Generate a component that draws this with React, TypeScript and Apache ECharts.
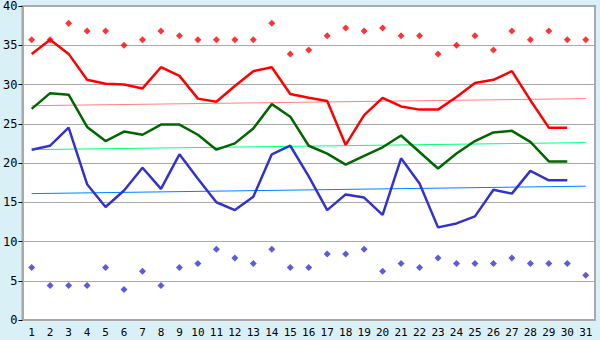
import React, { useEffect, useRef } from "react";
import * as echarts from "echarts";

const days = Array.from({ length: 31 }, (_, i) => String(i + 1));

const maxLine = [33.9, 35.7, 33.9, 30.6, 30.1, 30.0, 29.5, 32.2, 31.1, 28.2, 27.8, 29.8, 31.7, 32.2, 28.8, 28.3, 27.9, 22.3, 26.1, 28.3, 27.2, 26.8, 26.8, 28.4, 30.2, 30.6, 31.7, 28.0, 24.5, 24.5, null];
const avgLine = [26.9, 28.9, 28.7, 24.6, 22.8, 24.0, 23.6, 24.9, 24.9, 23.6, 21.7, 22.5, 24.4, 27.5, 25.9, 22.2, 21.2, 19.8, 20.9, 22.0, 23.5, 21.4, 19.3, 21.2, 22.8, 23.9, 24.1, 22.7, 20.2, 20.2, null];
const minLine = [21.7, 22.2, 24.5, 17.3, 14.4, 16.5, 19.4, 16.7, 21.1, 18.0, 15.0, 14.0, 15.7, 21.1, 22.2, 18.3, 14.0, 16.0, 15.6, 13.4, 20.6, 17.4, 11.8, 12.3, 13.2, 16.6, 16.1, 19.0, 17.8, 17.8, null];
const maxRecord = [35.7, 35.7, 37.8, 36.8, 36.8, 35.0, 35.7, 36.8, 36.2, 35.7, 35.7, 35.7, 35.7, 37.8, 33.9, 34.4, 36.2, 37.2, 36.8, 37.2, 36.2, 36.2, 33.9, 35.0, 36.2, 34.4, 36.8, 35.7, 36.8, 35.7, 35.7];
const minRecord = [6.7, 4.4, 4.4, 4.4, 6.7, 3.9, 6.2, 4.4, 6.7, 7.2, 9.0, 7.9, 7.2, 9.0, 6.7, 6.7, 8.4, 8.4, 9.0, 6.2, 7.2, 6.7, 7.9, 7.2, 7.2, 7.2, 7.9, 7.2, 7.2, 7.2, 5.7];
// trend line endpoints (day 1, day 31)
const maxTrend = [27.3, 28.2];
const avgTrend = [21.7, 22.6];
const minTrend = [16.1, 17.05];

const FONT = "DejaVu Sans Mono";

export default function App() {
  const ref = useRef<HTMLDivElement>(null);
  useEffect(() => {
    const chart = echarts.init(ref.current!, undefined, { renderer: "svg" });
    const last = days.length - 1;
    const trend = (vals: number[], color: string) => ({
      type: "line",
      data: [[0, vals[0]], [last, vals[1]]],
      symbol: "none",
      lineStyle: { color, width: 1 },
      z: 1,
    });
    const line = (vals: (number | null)[], color: string) => ({
      type: "line",
      data: vals,
      symbol: "none",
      lineStyle: { color, width: 2.5 },
      z: 3,
    });
    const dots = (vals: number[], color: string) => ({
      type: "scatter",
      data: vals,
      symbol: "diamond",
      symbolSize: 7,
      itemStyle: { color },
      z: 4,
    });
    chart.setOption({
      animation: false,
      backgroundColor: "#daf0f7",
      textStyle: { fontFamily: FONT },
      grid: {
        left: 20.5,
        right: 5,
        top: 5,
        bottom: 20,
        show: true,
        backgroundColor: "#ffffff",
        borderColor: "#aaaaaa",
        borderWidth: 2,
      },
      xAxis: {
        type: "category",
        data: days,
        boundaryGap: true,
        axisLine: { lineStyle: { color: "#aaaaaa", width: 2 } },
        axisTick: { alignWithLabel: true, length: 5, lineStyle: { color: "#000000" } },
        axisLabel: { color: "#000", fontSize: 11, fontFamily: FONT, margin: 7, interval: 0 },
        splitLine: { show: false },
      },
      yAxis: {
        type: "value",
        min: 0,
        max: 40,
        interval: 5,
        axisLine: { show: true, lineStyle: { color: "#aaaaaa", width: 2 } },
        axisTick: { show: true, length: 4, lineStyle: { color: "#000000" } },
        axisLabel: { color: "#000", fontSize: 12, fontFamily: FONT, margin: 5 },
        splitLine: { lineStyle: { color: "#aaaaaa", width: 1 } },
      },
      series: [
        trend(maxTrend, "#ff8080"),
        trend(avgTrend, "#00ff80"),
        trend(minTrend, "#0080ff"),
        line(maxLine, "#ff0000"),
        line(avgLine, "#006600"),
        line(minLine, "#3333cc"),
        dots(maxRecord, "#ff0000"),
        dots(minRecord, "#3333cc"),
      ],
    });
    return () => chart.dispose();
  }, []);
  return (
    <div
      ref={ref}
      style={{ position: "absolute", left: 0, top: 0, width: 600, height: 340 }}
    />
  );
}
